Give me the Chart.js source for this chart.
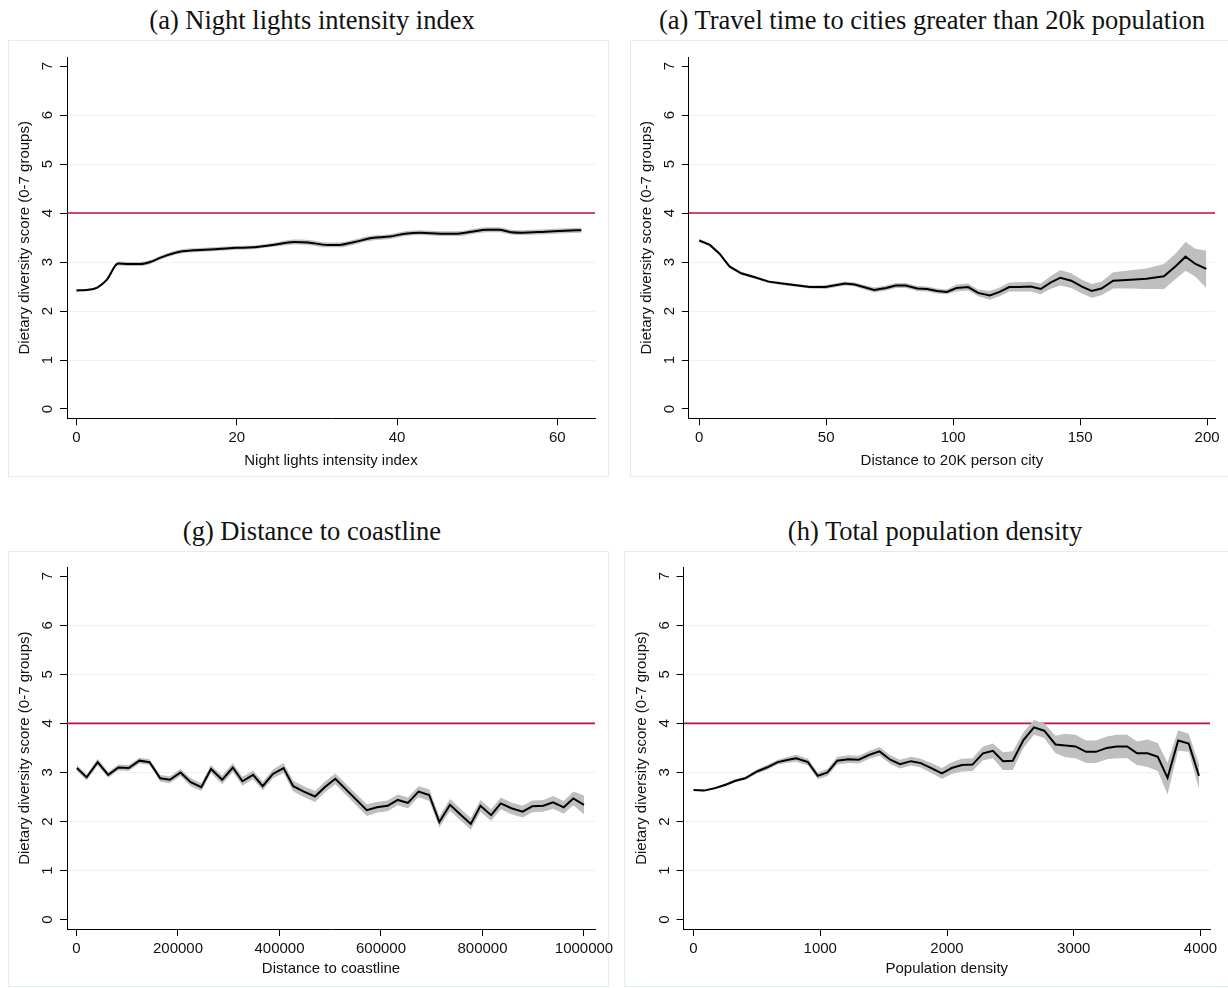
<!DOCTYPE html>
<html lang="en">
<head>
<meta charset="utf-8">
<title>Dietary diversity score by location characteristics</title>
<script src="https://cdn.jsdelivr.net/npm/chart.js@4.4.1/dist/chart.umd.min.js"></script>
<style>
  html, body { margin: 0; padding: 0; background: #fff; overflow: hidden; }
  #page { position: relative; width: 1228px; height: 988px; overflow: hidden; }
  .box { position: absolute; box-sizing: border-box; border: 1px solid #e2ebee; }
  .ttl { position: absolute; width: 600px; height: 30px; line-height: 30px; text-align: center;
         font-family: "Liberation Serif", "DejaVu Serif", serif; font-size: 26.5px; color: #111; white-space: nowrap; }
  canvas { position: absolute; }
</style>
</head>
<body>
<div id="page">
  <div class="box" style="left:8px;top:40px;width:601px;height:437px"></div>
  <div class="box" style="left:630px;top:40px;width:620px;height:437px"></div>
  <div class="box" style="left:8px;top:551px;width:601px;height:436px"></div>
  <div class="box" style="left:624px;top:551px;width:620px;height:436px"></div>

  <div class="ttl" style="left:12px;top:5px">(a) Night lights intensity index</div>
  <div class="ttl" style="left:632px;top:5px">(a) Travel time to cities greater than 20k population</div>
  <div class="ttl" style="left:12px;top:516px">(g) Distance to coastline</div>
  <div class="ttl" style="left:635px;top:516px">(h) Total population density</div>

  <canvas id="c1" width="614" height="494" style="left:0;top:0"></canvas>
  <canvas id="c2" width="614" height="494" style="left:614px;top:0"></canvas>
  <canvas id="c3" width="614" height="494" style="left:0;top:494px"></canvas>
  <canvas id="c4" width="614" height="494" style="left:614px;top:494px"></canvas>
</div>

<script>
// shared y axis
var yTicks = [0, 1, 2, 3, 4, 5, 6, 7];
var refLevel = 4;
var yTitle = "Dietary diversity score (0-7 groups)";

// (a) night lights
var nightTicks = [0, 20, 40, 60];
var nightX = [0, 1.3, 2.6, 3.8, 5.2, 6.5, 8, 9.2, 10.5, 11.9, 13.2, 14.6, 16, 18, 20, 22, 24.5, 27.2, 28.9, 31.3, 32.8, 34.7, 36.9, 39.1, 41, 43, 45.4, 47.6, 49.3, 51.2, 52.7, 54.2, 55.6, 58.5, 61, 63];
var nightMean = [2.42, 2.43, 2.48, 2.64, 2.97, 2.96, 2.96, 3.00, 3.09, 3.17, 3.22, 3.24, 3.25, 3.27, 3.29, 3.30, 3.35, 3.41, 3.40, 3.35, 3.35, 3.41, 3.49, 3.52, 3.58, 3.60, 3.58, 3.58, 3.62, 3.66, 3.66, 3.61, 3.60, 3.62, 3.64, 3.65];
var nightLo = [2.40, 2.41, 2.46, 2.61, 2.93, 2.92, 2.92, 2.96, 3.05, 3.13, 3.18, 3.20, 3.21, 3.23, 3.25, 3.26, 3.31, 3.36, 3.35, 3.30, 3.30, 3.36, 3.44, 3.47, 3.53, 3.55, 3.53, 3.53, 3.57, 3.61, 3.61, 3.56, 3.55, 3.57, 3.59, 3.60];
var nightHi = [2.44, 2.45, 2.50, 2.67, 3.01, 3.00, 3.00, 3.04, 3.13, 3.21, 3.26, 3.28, 3.29, 3.31, 3.33, 3.34, 3.39, 3.46, 3.45, 3.40, 3.40, 3.46, 3.54, 3.57, 3.63, 3.65, 3.63, 3.63, 3.67, 3.71, 3.71, 3.66, 3.65, 3.67, 3.69, 3.70];

// (a) travel time to 20k city
var travelTicks = [0, 50, 100, 150, 200];
var travelX = [0, 4.2, 8, 11.9, 16.5, 21.9, 27.3, 32.7, 38.9, 43.5, 49.7, 57.4, 61.2, 68.9, 73.6, 77.4, 81.3, 85.9, 89.7, 93.6, 97.5, 101.3, 105.9, 109.8, 114.4, 118.3, 122.1, 126, 130.6, 134.5, 138.3, 142.2, 146.5, 150.7, 154.5, 158.4, 163, 169.9, 176.1, 183, 187.7, 191.5, 195.4, 199.7];
var travelMean = [3.44, 3.35, 3.17, 2.91, 2.77, 2.69, 2.60, 2.56, 2.52, 2.49, 2.49, 2.56, 2.54, 2.43, 2.47, 2.52, 2.52, 2.46, 2.45, 2.41, 2.39, 2.47, 2.49, 2.37, 2.32, 2.39, 2.49, 2.49, 2.50, 2.45, 2.58, 2.68, 2.62, 2.50, 2.41, 2.46, 2.62, 2.64, 2.66, 2.71, 2.92, 3.11, 2.96, 2.86];
var travelLo = [3.41, 3.32, 3.14, 2.88, 2.74, 2.66, 2.57, 2.53, 2.49, 2.46, 2.45, 2.52, 2.50, 2.38, 2.42, 2.47, 2.47, 2.41, 2.40, 2.36, 2.34, 2.40, 2.42, 2.30, 2.23, 2.30, 2.40, 2.40, 2.40, 2.34, 2.45, 2.52, 2.47, 2.36, 2.27, 2.32, 2.46, 2.46, 2.45, 2.45, 2.66, 2.82, 2.70, 2.47];
var travelHi = [3.47, 3.38, 3.20, 2.94, 2.80, 2.72, 2.63, 2.59, 2.55, 2.52, 2.53, 2.60, 2.58, 2.48, 2.52, 2.57, 2.57, 2.51, 2.50, 2.46, 2.44, 2.54, 2.56, 2.44, 2.41, 2.48, 2.58, 2.59, 2.60, 2.56, 2.71, 2.84, 2.77, 2.64, 2.55, 2.60, 2.79, 2.83, 2.87, 2.96, 3.18, 3.41, 3.27, 3.23];

// (g) distance to coastline
var coastTicks = [0, 200000, 400000, 600000, 800000, 1000000];
var coastX = [800, 20000, 41700, 62500, 82600, 103000, 124000, 144000, 165000, 184000, 205000, 225000, 246000, 265000, 287000, 308000, 327000, 348000, 367000, 387000, 408000, 427000, 448000, 470000, 489000, 510000, 572000, 592000, 613000, 633000, 653000, 674000, 695000, 715000, 736000, 757000, 777000, 796000, 817000, 836000, 857000, 879000, 898000, 920000, 939000, 960000, 979000, 1000000];
var coastMean = [3.09, 2.90, 3.21, 2.95, 3.10, 3.09, 3.24, 3.21, 2.88, 2.85, 3.00, 2.80, 2.70, 3.07, 2.85, 3.10, 2.82, 2.95, 2.72, 2.97, 3.09, 2.72, 2.61, 2.51, 2.70, 2.87, 2.23, 2.29, 2.32, 2.44, 2.38, 2.61, 2.54, 1.99, 2.34, 2.14, 1.95, 2.32, 2.13, 2.37, 2.27, 2.20, 2.31, 2.32, 2.39, 2.29, 2.47, 2.34];
var coastLo = [3.03, 2.84, 3.14, 2.89, 3.04, 3.03, 3.18, 3.15, 2.81, 2.78, 2.93, 2.72, 2.62, 2.99, 2.76, 3.01, 2.73, 2.86, 2.63, 2.88, 2.99, 2.61, 2.50, 2.40, 2.59, 2.76, 2.11, 2.18, 2.21, 2.33, 2.27, 2.50, 2.42, 1.88, 2.22, 2.02, 1.83, 2.20, 2.01, 2.25, 2.15, 2.08, 2.19, 2.20, 2.26, 2.16, 2.33, 2.15];
var coastHi = [3.15, 2.96, 3.28, 3.01, 3.16, 3.15, 3.30, 3.27, 2.95, 2.92, 3.07, 2.88, 2.78, 3.15, 2.94, 3.19, 2.91, 3.04, 2.81, 3.06, 3.19, 2.83, 2.72, 2.62, 2.81, 2.98, 2.35, 2.40, 2.43, 2.55, 2.49, 2.72, 2.66, 2.10, 2.46, 2.26, 2.07, 2.44, 2.25, 2.49, 2.39, 2.32, 2.43, 2.44, 2.52, 2.42, 2.61, 2.53];

// (h) population density
var popTicks = [0, 1000, 2000, 3000, 4000];
var popX = [0, 83, 170, 253, 331, 408, 501, 578, 665, 748, 810, 903, 980, 1057, 1134, 1221, 1304, 1388, 1468, 1552, 1629, 1716, 1793, 1876, 1960, 2037, 2117, 2201, 2284, 2362, 2442, 2519, 2603, 2686, 2767, 2856, 2934, 3014, 3097, 3175, 3261, 3338, 3422, 3499, 3583, 3663, 3740, 3824, 3907, 3988];
var popMean = [2.64, 2.63, 2.68, 2.75, 2.83, 2.88, 3.02, 3.10, 3.21, 3.26, 3.29, 3.21, 2.93, 3.00, 3.24, 3.27, 3.26, 3.36, 3.43, 3.26, 3.17, 3.23, 3.19, 3.09, 2.98, 3.09, 3.15, 3.16, 3.39, 3.44, 3.23, 3.24, 3.66, 3.92, 3.85, 3.57, 3.55, 3.53, 3.42, 3.42, 3.50, 3.53, 3.53, 3.39, 3.39, 3.32, 2.89, 3.65, 3.59, 2.93];
var popLo = [2.62, 2.61, 2.66, 2.72, 2.80, 2.85, 2.98, 3.05, 3.16, 3.20, 3.22, 3.14, 2.86, 2.93, 3.16, 3.19, 3.18, 3.28, 3.34, 3.17, 3.08, 3.14, 3.10, 2.99, 2.87, 2.97, 3.02, 3.03, 3.25, 3.29, 3.05, 3.05, 3.50, 3.77, 3.70, 3.39, 3.31, 3.29, 3.19, 3.19, 3.27, 3.29, 3.29, 3.15, 3.11, 3.03, 2.55, 3.44, 3.42, 2.67];
var popHi = [2.66, 2.65, 2.70, 2.78, 2.86, 2.91, 3.06, 3.15, 3.26, 3.32, 3.36, 3.28, 3.00, 3.07, 3.32, 3.35, 3.34, 3.44, 3.52, 3.35, 3.26, 3.32, 3.28, 3.19, 3.09, 3.21, 3.28, 3.29, 3.53, 3.59, 3.41, 3.43, 3.82, 4.07, 4.00, 3.75, 3.79, 3.77, 3.65, 3.65, 3.73, 3.77, 3.77, 3.63, 3.67, 3.60, 3.20, 3.86, 3.79, 3.17];

var sans = "'Liberation Sans', Arial, sans-serif";
var gridColor = "#eaf2f3";
var bandColor = "#bfbfbf";
var refColor = "#b3163b";

function pts(xs, ys) {
  return xs.map(function (x, i) { return { x: x, y: ys[i] }; });
}

function makePanel(id, p) {
  var curve = p.smooth ? "monotone" : "default";
  new Chart(document.getElementById(id), {
    type: "line",
    data: {
      datasets: [
        { data: pts(p.x, p.lo), borderWidth: 0, borderColor: "rgba(0,0,0,0)", pointRadius: 0, fill: false, order: 2, cubicInterpolationMode: curve },
        { data: pts(p.x, p.hi), borderWidth: 0, borderColor: "rgba(0,0,0,0)", pointRadius: 0, fill: "-1", backgroundColor: bandColor, order: 1, cubicInterpolationMode: curve },
        { data: pts(p.x, p.mean), borderColor: "#000", borderWidth: 2, pointRadius: 0, fill: false, order: 0, cubicInterpolationMode: curve },
        { data: [{ x: p.xMin, y: refLevel }, { x: p.xMax, y: refLevel }], borderColor: refColor, borderWidth: 1.6, pointRadius: 0, fill: false, order: 3 }
      ]
    },
    options: {
      responsive: false,
      animation: false,
      layout: { padding: { left: 0, top: p.top, right: 614 - p.right, bottom: 0 } },
      plugins: { legend: { display: false }, tooltip: { enabled: false } },
      scales: {
        x: {
          type: "linear",
          min: p.xMin,
          max: p.xMax,
          afterBuildTicks: function (s) { s.ticks = p.ticks.map(function (v) { return { value: v }; }); },
          afterFit: function (s) { s.height = 494 - p.bottom; s.paddingLeft = 0; s.paddingRight = 0; },
          grid: { drawOnChartArea: false, tickLength: 7, tickColor: "#000", tickWidth: 1 },
          border: { color: "#000", width: 1 },
          ticks: {
            autoSkip: false, maxRotation: 0, padding: 4, color: "#111",
            font: { family: sans, size: 15 },
            callback: function (v) { return String(v); }
          },
          title: { display: true, text: p.xTitle, color: "#111", font: { family: sans, size: 15 }, padding: { top: 0, bottom: p.xTitlePad } }
        },
        y: {
          min: -0.19,
          max: 7.18,
          afterBuildTicks: function (s) { s.ticks = yTicks.map(function (v) { return { value: v }; }); },
          afterFit: function (s) { s.width = p.left; s.paddingTop = 0; s.paddingBottom = 0; },
          grid: {
            color: function (c) { return (c.tick && (c.tick.value === 0 || c.tick.value === 7)) ? "rgba(0,0,0,0)" : gridColor; },
            tickLength: 7, tickColor: "#000", tickWidth: 1, lineWidth: 1
          },
          border: { color: "#000", width: 1 },
          ticks: {
            minRotation: 90, maxRotation: 90, crossAlign: "center", padding: 7.5, color: "#111",
            font: { family: sans, size: 15 }
          },
          title: { display: true, text: yTitle, color: "#111", font: { family: sans, size: 15 }, padding: { top: p.left - 51, bottom: 0 } }
        }
      }
    }
  });
}

makePanel("c1", { x: nightX, mean: nightMean, lo: nightLo, hi: nightHi, ticks: nightTicks, smooth: true,
  xMin: -1.18, xMax: 64.7, left: 67, right: 595, top: 57.3, bottom: 418.3, xTitle: "Night lights intensity index", xTitlePad: 24 });
makePanel("c2", { x: travelX, mean: travelMean, lo: travelLo, hi: travelHi, ticks: travelTicks,
  xMin: -4.1, xMax: 203.1, left: 74.8, right: 601, top: 57.3, bottom: 418.3, xTitle: "Distance to 20K person city", xTitlePad: 24 });
makePanel("c3", { x: coastX, mean: coastMean, lo: coastLo, hi: coastHi, ticks: coastTicks,
  xMin: -18700, xMax: 1021700, left: 67, right: 595, top: 73.3, bottom: 435, xTitle: "Distance to coastline", xTitlePad: 10 });
makePanel("c4", { x: popX, mean: popMean, lo: popLo, hi: popHi, ticks: popTicks,
  xMin: -79, xMax: 4075, left: 69.5, right: 596, top: 73.3, bottom: 435, xTitle: "Population density", xTitlePad: 10 });
</script>
</body>
</html>
